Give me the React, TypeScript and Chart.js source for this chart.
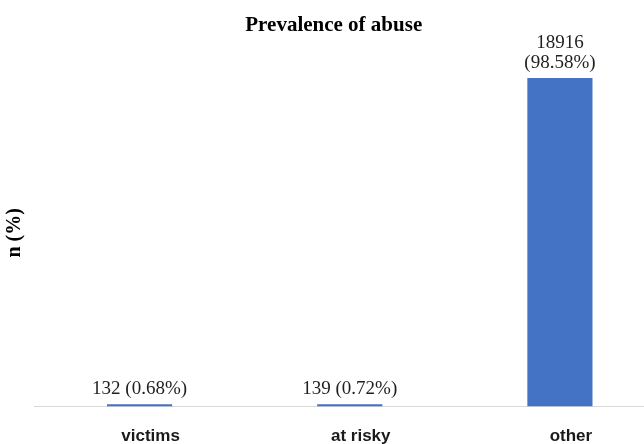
import React, { useEffect, useRef } from "react";
import { Chart, registerables } from "chart.js";

Chart.register(...registerables);

const categories = ["victims", "at risky", "other"];
const counts = [132, 139, 18916];
const valueLabels = [["132 (0.68%)"], ["139 (0.72%)"], ["18916", "(98.58%)"]];
const chartTitle = "Prevalence of abuse";
const yTitle = "n (%)";

const labelPlugin = {
  id: "barValueLabels",
  afterDatasetsDraw(chart: any) {
    const ctx = chart.ctx;
    const meta = chart.getDatasetMeta(0);
    ctx.save();
    ctx.font = '19px "Liberation Serif", "Times New Roman", serif';
    ctx.fillStyle = "#1f1f1f";
    ctx.textAlign = "center";
    ctx.textBaseline = "alphabetic";
    meta.data.forEach((bar: any, i: number) => {
      const lines = valueLabels[i];
      const lineGap = 20;
      lines.forEach((line: string, j: number) => {
        const fromBottom = lines.length - 1 - j;
        ctx.fillText(line, bar.x, bar.y - 10 - fromBottom * lineGap);
      });
    });
    ctx.restore();
  },
};

export default function App() {
  const canvasRef = useRef<HTMLCanvasElement | null>(null);

  useEffect(() => {
    document.body.style.margin = "0";
    const canvas = canvasRef.current;
    if (!canvas) return;
    const chart = new Chart(canvas, {
      type: "bar",
      data: {
        labels: categories,
        datasets: [
          {
            data: counts,
            backgroundColor: "#4472C4",
            borderWidth: 0,
            barPercentage: 0.31,
            categoryPercentage: 1,
          },
        ],
      },
      options: {
        animation: false,
        responsive: true,
        maintainAspectRatio: false,
        layout: { padding: { left: 2.5, right: 0, top: 3, bottom: -23 } },
        plugins: {
          legend: { display: false },
          tooltip: { enabled: false },
          title: {
            display: true,
            text: chartTitle,
            color: "#000",
            font: { family: '"Liberation Serif", "Times New Roman", serif', size: 21, weight: "bold" },
            padding: { top: 10, bottom: 21 },
          },
        },
        scales: {
          x: {
            grid: { display: false, drawTicks: false },
            border: { display: true, color: "#d9d9d9", width: 1 },
            ticks: {
              color: "#1a1a1a",
              padding: 20,
              labelOffset: 11,
              maxRotation: 0,
              autoSkip: false,
              font: { family: '"Liberation Sans", Arial, sans-serif', size: 17, weight: "bold" },
            },
          },
          y: {
            min: 0,
            max: 20000,
            grid: { display: false, drawTicks: false },
            border: { display: false },
            ticks: { display: false },
            title: {
              display: true,
              text: yTitle,
              color: "#000",
              padding: { top: 0, bottom: 8 },
              font: { family: '"Liberation Serif", "Times New Roman", serif', size: 20, weight: "bold" },
            },
          },
        },
      },
      plugins: [labelPlugin],
    });
    return () => chart.destroy();
  }, []);

  return (
    <div style={{ width: 644, height: 444, overflow: "hidden", position: "relative" }}>
      <div style={{ width: 665, height: 444, position: "relative" }}>
        <canvas ref={canvasRef} />
      </div>
    </div>
  );
}
